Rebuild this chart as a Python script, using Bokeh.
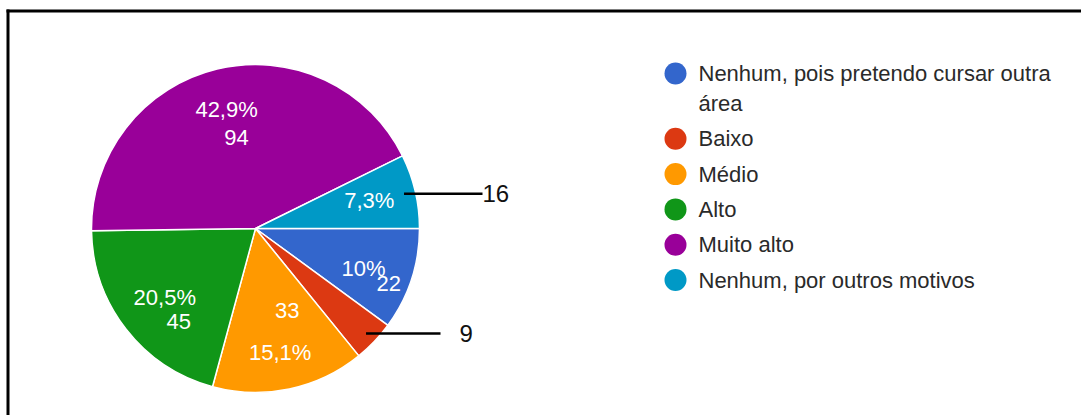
import math
import textwrap
from bokeh.plotting import figure
from bokeh.models import Range1d
from bokeh.embed import file_html
from bokeh.resources import INLINE
from bokeh.core.properties import value

# ---------------- data ----------------
categories = [
    "Nenhum, pois pretendo cursar outra área",
    "Baixo",
    "Médio",
    "Alto",
    "Muito alto",
    "Nenhum, por outros motivos",
]
counts = [22, 9, 33, 45, 94, 16]
percent_labels = ["10%", "4,1%", "15,1%", "20,5%", "42,9%", "7,3%"]
colors = ["#3366cc", "#dc3912", "#ff9900", "#109618", "#990099", "#0099c6"]

# ---------------- styles ----------------
W, H = 1081, 415
FONT = "Liberation Sans"
FS = "22px"
LEG_FS = "22px"
CALL_FS = "24px"
CX, CY = 255, 228          # pie centre (screen px)
R = 164                    # pie radius (px)
LABEL_R = 0.70             # radial fraction for in-slice labels
# per slice: show percent?, show value inside?, percent offset, value offset (screen px)
label_style = [
    (True, True, (-1, 4), (24, 19)),
    (False, False, None, None),
    (True, True, (1, 12), (8, -30)),
    (True, True, (0, -1), (14, 23)),
    (True, True, (-2, -7), (8, 21)),
    (True, False, (2, -2), None),
]
# callouts (slice index -> leader end x, text x)
callouts = {5: (482, 482), 1: (440, 459)}
LEADER_R = 0.93

def sy(y):
    return H - y

p = figure(width=W, height=H, output_backend="svg", toolbar_location=None,
           x_range=Range1d(0, W), y_range=Range1d(0, H), min_border=0)
p.axis.visible = False
p.grid.visible = False
p.outline_line_color = None
p.background_fill_color = "white"
p.border_fill_color = "white"

# frame (decoration)
p.segment(x0=[6], y0=[sy(10.5)], x1=[W], y1=[sy(10.5)], line_color="black", line_width=3)
p.segment(x0=[7.5], y0=[sy(9)], x1=[7.5], y1=[0], line_color="black", line_width=3)

total = sum(counts)
cum = 0.0
starts, ends, mids = [], [], []
for c in counts:
    a0 = cum / total * 2 * math.pi
    cum += c
    a1 = cum / total * 2 * math.pi
    starts.append(-a0)
    ends.append(-a1)
    mids.append(-(a0 + a1) / 2)

p.wedge(x=CX, y=sy(CY), radius=R, start_angle=starts, end_angle=ends,
        direction="clock", fill_color=colors, line_color="white", line_width=1.5)

# in-slice labels
tx, ty, tt = [], [], []
for i, (show_pct, show_val, po, vo) in enumerate(label_style):
    ax = CX + LABEL_R * R * math.cos(mids[i])
    ay = sy(CY) + LABEL_R * R * math.sin(mids[i])
    if show_pct:
        tx.append(ax + po[0]); ty.append(ay - po[1]); tt.append(percent_labels[i])
    if show_val:
        tx.append(ax + vo[0]); ty.append(ay - vo[1]); tt.append(str(counts[i]))
p.text(x=tx, y=ty, text=tt, text_color="white", text_font=value(FONT),
       text_font_size=FS, text_align="center", text_baseline="middle")

# callouts
for i, (xend, xtext) in callouts.items():
    x0 = CX + LEADER_R * R * math.cos(mids[i])
    y0 = sy(CY) + LEADER_R * R * math.sin(mids[i])
    p.segment(x0=[x0], y0=[y0], x1=[xend], y1=[y0], line_color="black", line_width=2.5)
    p.text(x=[xtext], y=[y0], text=[str(counts[i])], text_color="#111111",
           text_font=value(FONT), text_font_size=CALL_FS, text_align="left",
           text_baseline="middle")

# legend
LX_C, LX_T = 675, 698
LY0 = 73
ROW = 35.3
WRAP_LINE = 30
lx, ly, lt, cx_, cy_ = [], [], [], [], []
y = LY0
for i, name in enumerate(categories):
    lines = textwrap.wrap(name, 34)
    cx_.append(LX_C); cy_.append(sy(y))
    for k, ln in enumerate(lines):
        lx.append(LX_T); ly.append(sy(y + k * WRAP_LINE)); lt.append(ln)
    y += ROW + (len(lines) - 1) * WRAP_LINE
p.scatter(x=cx_, y=cy_, size=22, fill_color=colors, line_color=None)
p.text(x=lx, y=ly, text=lt, text_color="#2a2a2a", text_font=value(FONT),
       text_font_size=LEG_FS, text_align="left", text_baseline="middle")

open("out.html", "w").write(file_html(p, INLINE))
